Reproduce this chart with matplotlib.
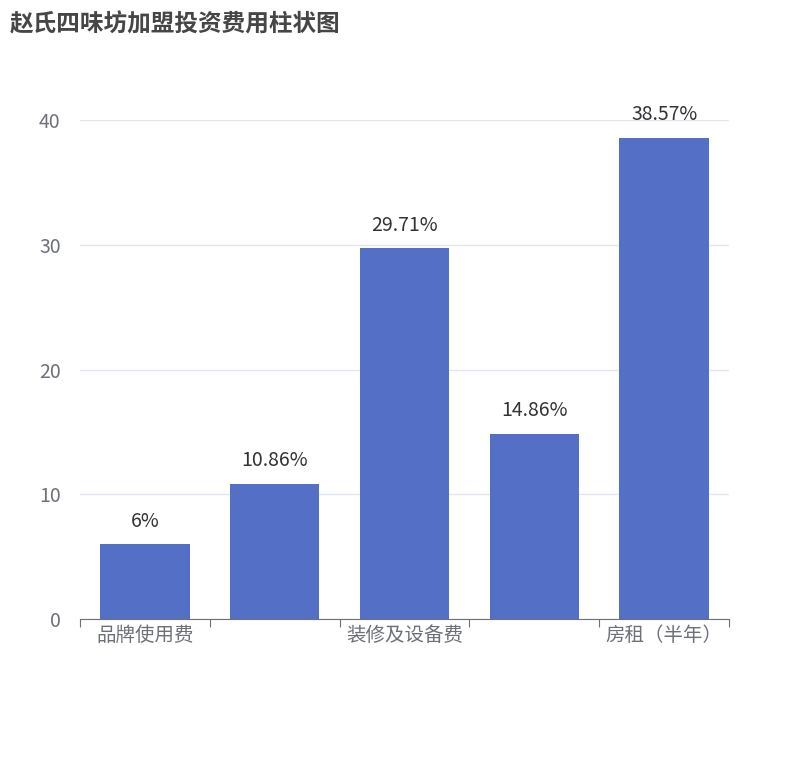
import matplotlib
matplotlib.use("Agg")
import matplotlib.pyplot as plt

plt.rcParams['font.family'] = ['Noto Sans CJK SC', 'DejaVu Sans']

title = "赵氏四味坊加盟投资费用柱状图"
categories = ["品牌使用费", "加盟保证金", "装修及设备费", "首批进货费", "房租（半年）"]
values = [6, 10.86, 29.71, 14.86, 38.57]
labels = ["6%", "10.86%", "29.71%", "14.86%", "38.57%"]
yticks = [0, 10, 20, 30, 40]

fig = plt.figure(figsize=(8.1, 7.6), dpi=100)
ax = fig.add_axes([0.0988, 0.1855, 0.8012, 0.6565])
x = list(range(len(categories)))
ax.bar(x, values, width=0.69, color="#5470c6", zorder=3)
for xi, v, l in zip(x, values, labels):
    ax.text(xi, v + 1.0, l, ha="center", va="bottom", fontsize=14, color="#333333")
ax.set_xlim(-0.5, len(categories) - 0.5)
ax.set_ylim(0, 40)
ax.set_yticks(yticks)
ax.grid(axis="y", color="#e0e6f1", linewidth=1, zorder=0)
for s in ["top", "right", "left"]:
    ax.spines[s].set_visible(False)
ax.spines["bottom"].set_color("#6e7079")
ax.tick_params(axis="y", length=0, labelsize=14, labelcolor="#6e7079", pad=14)
ax.set_xticks([i - 0.5 for i in range(len(categories) + 1)], minor=False)
ax.set_xticklabels([])
ax.tick_params(axis="x", which="major", length=6, color="#6e7079")
ax.set_xticks(x, minor=True)
ax.set_xticklabels([c if i % 2 == 0 else "" for i, c in enumerate(categories)], minor=True)
ax.tick_params(axis="x", which="minor", length=0, labelsize=14, labelcolor="#6e7079", pad=4)
fig.text(10 / 810, 1 - 25 / 760, title, fontsize=17, fontweight="bold", color="#464646", va="center", ha="left")
fig.savefig("out.png", dpi=100)
